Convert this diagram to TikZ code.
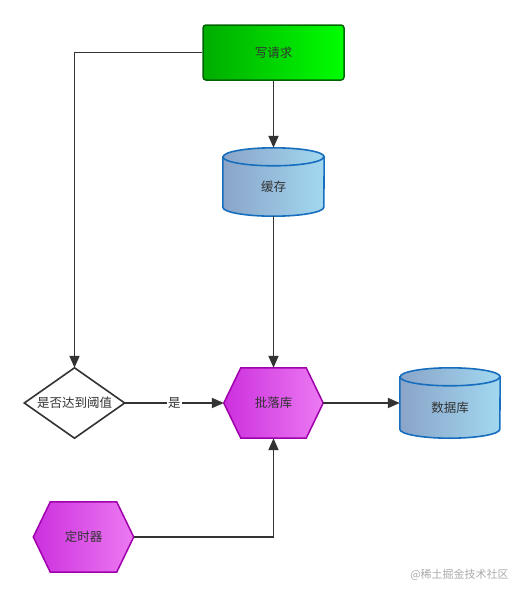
\documentclass[tikz,border=0pt]{standalone}
\usepackage{fontspec}
\newfontfamily\cjk{Noto Sans CJK SC}
\usetikzlibrary{arrows.meta}
\definecolor{ink}{RGB}{51,51,51}
\definecolor{greenL}{RGB}{0,172,0}
\definecolor{greenR}{RGB}{0,255,0}
\definecolor{greenB}{RGB}{0,100,0}
\definecolor{cylL}{RGB}{138,164,200}
\definecolor{cylR}{RGB}{162,216,240}
\definecolor{cylB}{RGB}{24,110,190}
\definecolor{hexL}{RGB}{204,48,222}
\definecolor{hexR}{RGB}{236,122,242}
\definecolor{hexB}{RGB}{160,0,172}
\definecolor{wm}{RGB}{170,170,170}
\tikzset{
  box/.style={rectangle, inner sep=0pt, text=ink, font=\cjk\fontsize{12.5}{14}\selectfont},
  reqbox/.style={box, draw=greenB, line width=1.5pt, rounded corners=3pt, left color=greenL, right color=greenR},
  cylpath/.style={draw=cylB, line width=1.6pt, left color=cylL, right color=cylR},
  hexpath/.style={draw=hexB, line width=1.5pt, left color=hexL, right color=hexR},
  diapath/.style={draw=ink, line width=1.6pt, fill=white},
  conn/.style={draw=ink, line width=1.8pt, -{Triangle[length=12pt,width=10pt]}},
  lbl/.style={fill=white, inner sep=1pt, text=ink, font=\cjk\fontsize{12.5}{14}\selectfont}
}
\begin{document}
\begin{tikzpicture}[x=1pt,y=-1pt]
\useasboundingbox (0,0) rectangle (525,597);

% nodes (frames)
\node[reqbox, minimum width=141pt, minimum height=55pt] (req) at (273.5,52.5) {写请求};
\node[box, minimum width=101pt, minimum height=68pt] (cache) at (273.5,182) {};
\node[box, minimum width=99pt, minimum height=70pt] (batch) at (273.5,403) {};
\node[box, minimum width=100pt, minimum height=70pt] (dia) at (74.5,403) {};
\node[box, minimum width=100pt, minimum height=70pt] (db) at (450,403) {};
\node[box, minimum width=100pt, minimum height=70pt] (timer) at (83.5,537) {};

% cylinder 缓存
\path[cylpath] ([yshift=-9pt]cache.north west) -- ([yshift=9pt]cache.south west)
  arc[start angle=180,end angle=360,x radius=50.5pt,y radius=9pt]
  -- ([yshift=-9pt]cache.north east)
  arc[start angle=0,end angle=180,x radius=50.5pt,y radius=9pt] -- cycle;
\draw[draw=cylB, line width=1.6pt] ([yshift=-9pt]cache.north west)
  arc[start angle=180,end angle=360,x radius=50.5pt,y radius=9pt];
\node[box] at (273.5,187) {缓存};

% cylinder 数据库
\path[cylpath] ([yshift=-9pt]db.north west) -- ([yshift=9pt]db.south west)
  arc[start angle=180,end angle=360,x radius=50pt,y radius=9pt]
  -- ([yshift=-9pt]db.north east)
  arc[start angle=0,end angle=180,x radius=50pt,y radius=9pt] -- cycle;
\draw[draw=cylB, line width=1.6pt] ([yshift=-9pt]db.north west)
  arc[start angle=180,end angle=360,x radius=50pt,y radius=9pt];
\node[box] at (450,408) {数据库};

% hexagon 批落库
\path[hexpath] (batch.west) -- ([xshift=17pt]batch.north west) -- ([xshift=-17pt]batch.north east)
  -- (batch.east) -- ([xshift=-17pt]batch.south east) -- ([xshift=17pt]batch.south west) -- cycle;
\node[box] at (batch.center) {批落库};

% hexagon 定时器
\path[hexpath] (timer.west) -- ([xshift=17pt]timer.north west) -- ([xshift=-17pt]timer.north east)
  -- (timer.east) -- ([xshift=-17pt]timer.south east) -- ([xshift=17pt]timer.south west) -- cycle;
\node[box] at (timer.center) {定时器};

% diamond
\path[diapath] (dia.west) -- (dia.north) -- (dia.east) -- (dia.south) -- cycle;
\node[box] at (dia.center) {是否达到阈值};

% connectors
\draw[conn] (req.west) -| (dia.north);
\draw[conn] (req.south) -- (cache.north);
\draw[conn] (cache.south) -- (batch.north);
\draw[conn] (dia.east) -- node[lbl] {是} (batch.west);
\draw[conn] (batch.east) -- (db.west);
\draw[conn] (timer.east) -| (batch.south);

% watermark
\node[text=wm, font=\cjk\fontsize{11}{13}\selectfont, inner sep=0pt] (wmk) at (459.5,575) {@稀土掘金技术社区};
\end{tikzpicture}
\end{document}
